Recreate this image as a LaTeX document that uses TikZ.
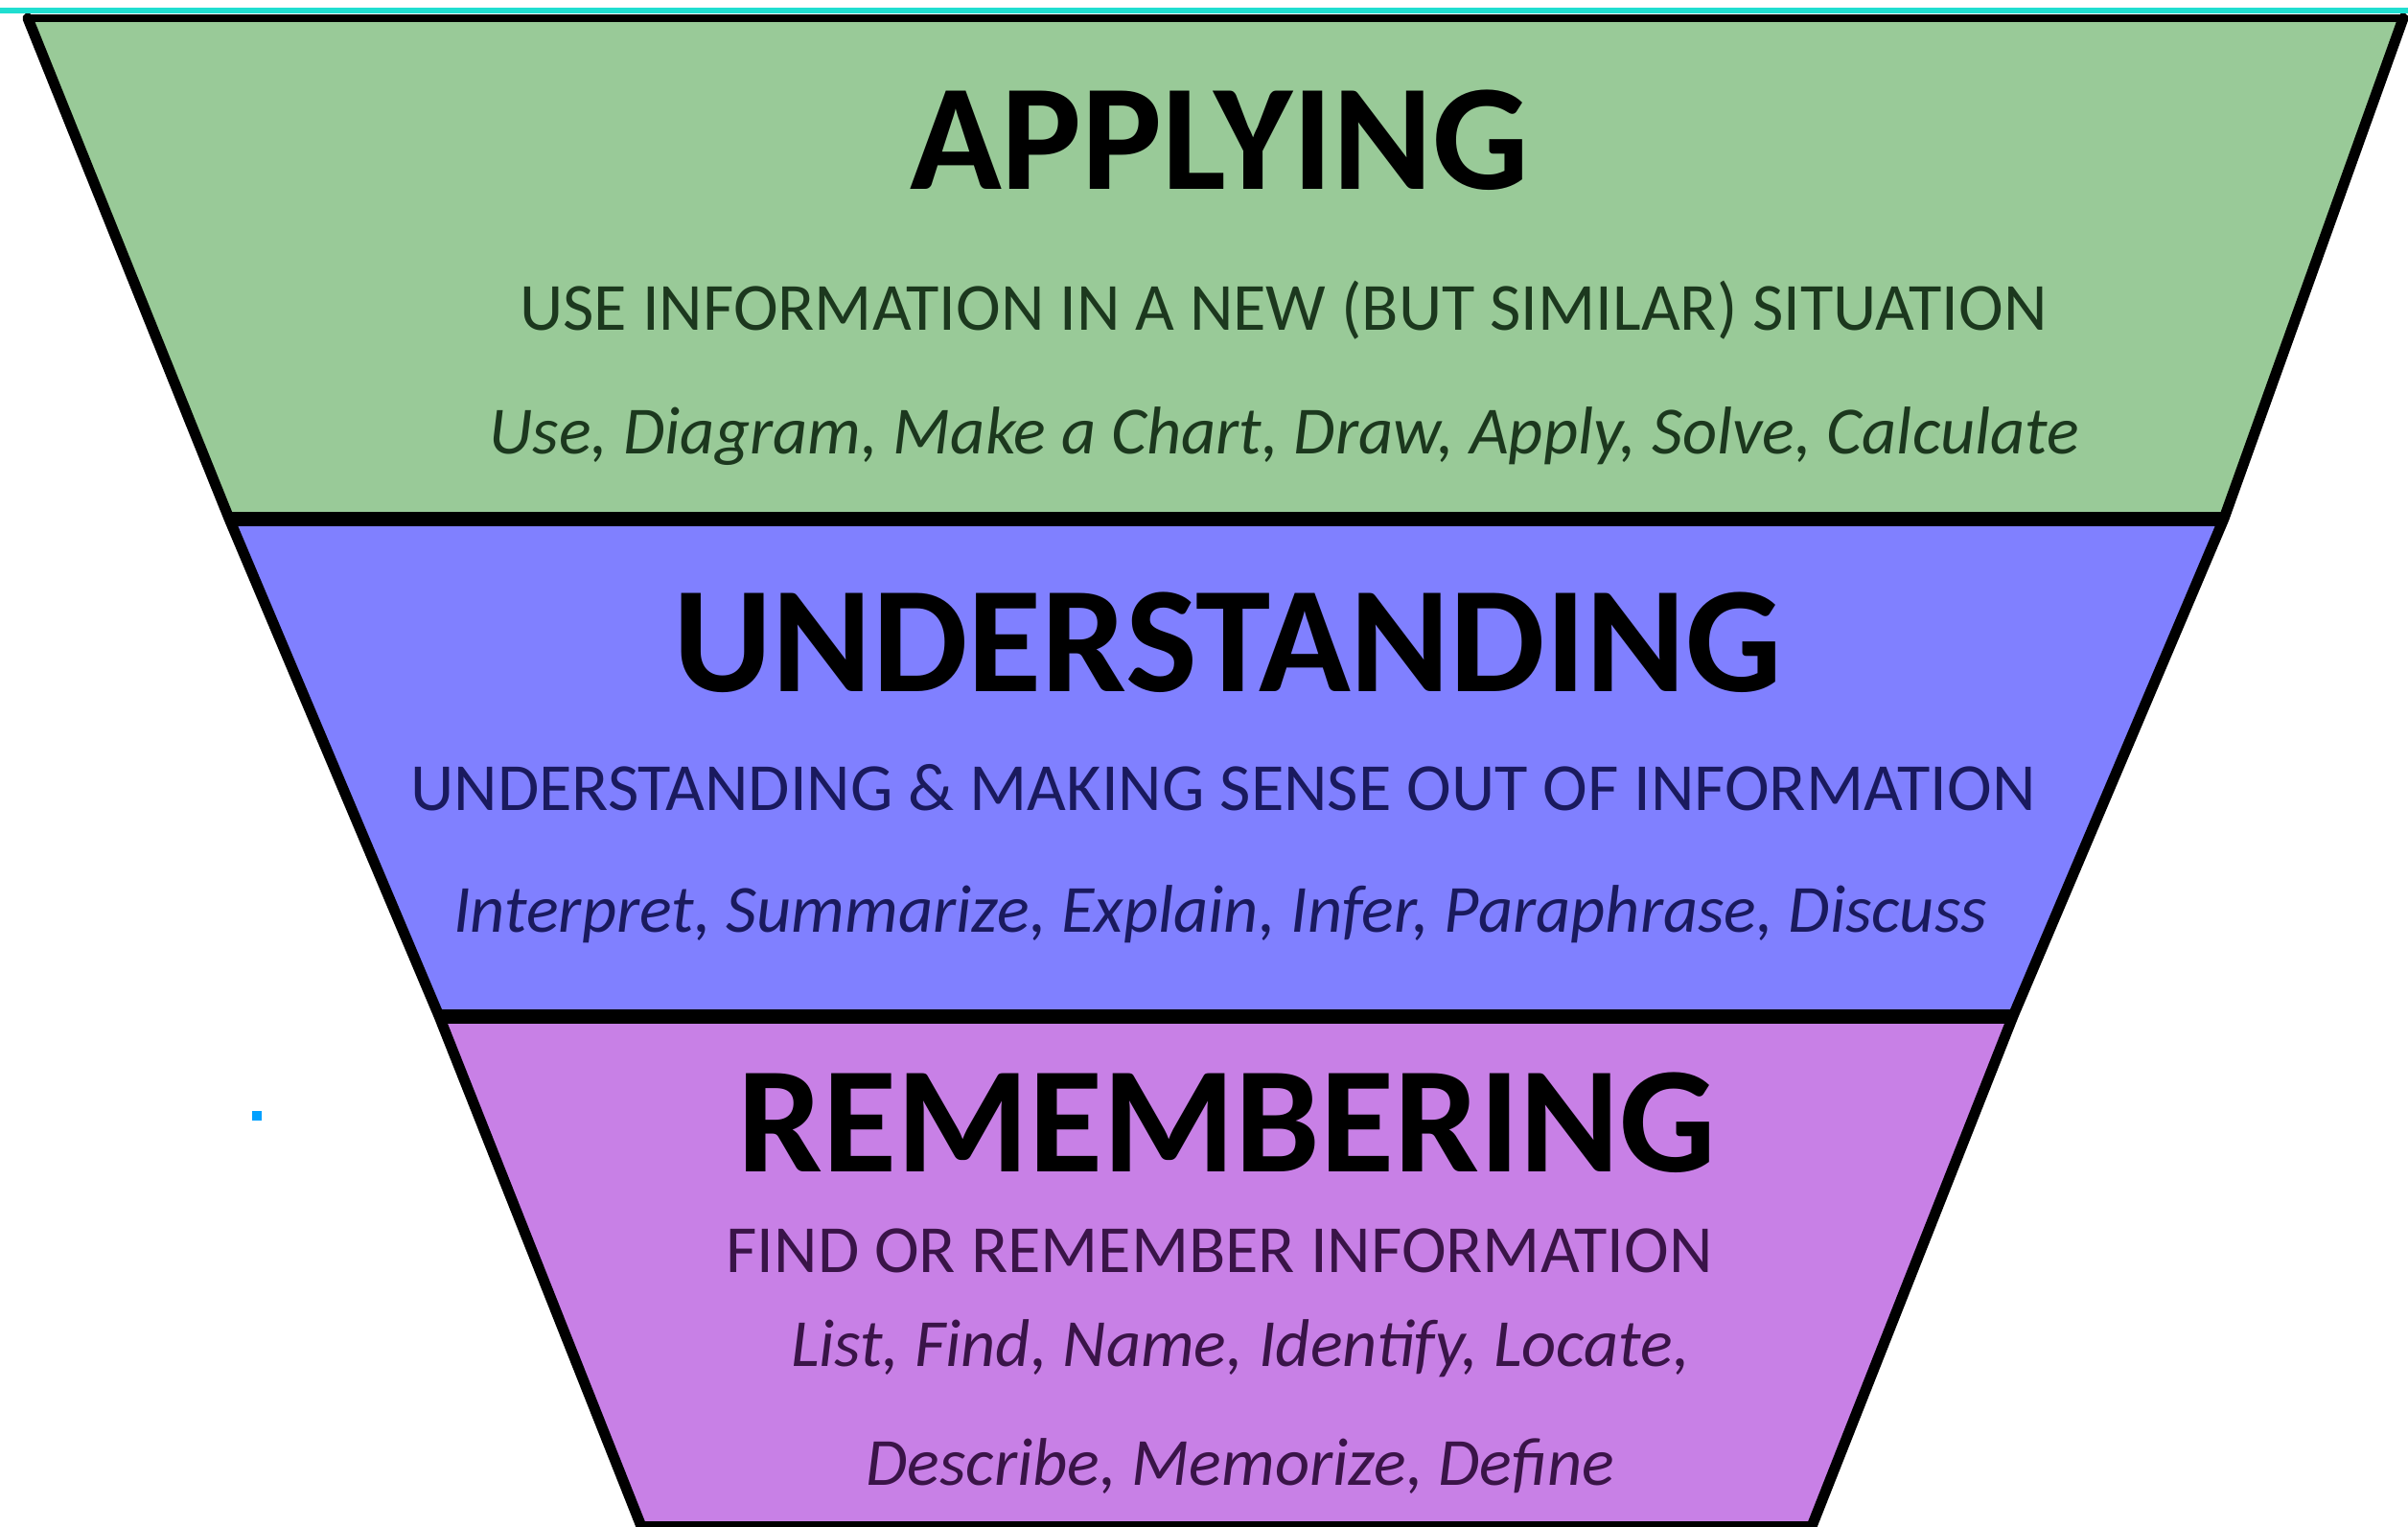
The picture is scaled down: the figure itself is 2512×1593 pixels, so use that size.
\documentclass[tikz,border=0pt]{standalone}
\usepackage{fontspec}
\setmainfont{Carlito}
\definecolor{layergreen}{RGB}{153,202,152}
\definecolor{layerblue}{RGB}{128,128,255}
\definecolor{layerpurple}{RGB}{200,128,230}
\definecolor{txtgreen}{RGB}{28,56,30}
\definecolor{txtblue}{RGB}{26,26,94}
\definecolor{txtpurple}{RGB}{58,20,72}
\definecolor{topcyan}{RGB}{32,222,208}
\definecolor{dotblue}{RGB}{0,160,255}
\tikzset{
  titletext/.style={anchor=base, inner sep=0pt, font=\fontsize{158}{166}\selectfont\bfseries, text=black},
  subtext/.style={anchor=base, inner sep=0pt, font=\fontsize{70.4}{76}\selectfont},
  verbtext/.style={anchor=base, inner sep=0pt, font=\fontsize{70.4}{76}\selectfont\itshape},
  sideline/.style={draw=black, line width=11pt, line cap=round},
  sepline/.style={draw=black, line width=15pt},
}
\begin{document}
\begin{tikzpicture}[x=1pt,y=-1pt]
\useasboundingbox (0,0) rectangle (2512,1593);
% vertices
\coordinate (TL) at (29,19);
\coordinate (TR) at (2507,19);
\coordinate (AL) at (239,541);
\coordinate (AR) at (2320,541);
\coordinate (BL) at (458,1060);
\coordinate (BR) at (2100,1060);
\coordinate (CL) at (672,1600);
\coordinate (CR) at (1887,1600);
\coordinate (DL) at (669,1591);
\coordinate (DR) at (1891,1591);
% fills
\fill[layergreen] (TL) -- (TR) -- (AR) -- (AL) -- cycle;
\fill[layerblue] (AL) -- (AR) -- (BR) -- (BL) -- cycle;
\fill[layerpurple] (BL) -- (BR) -- (CR) -- (CL) -- cycle;
% outlines
\draw[sideline] (TL) -- (AL) -- (BL) -- (CL);
\draw[sideline] (TR) -- (AR) -- (BR) -- (CR);
\draw[draw=black, line width=8pt] (TL) -- (TR);
\draw[sepline] (AL) -- (AR);
\draw[sepline] (BL) -- (BR);
\draw[draw=black, line width=8pt] (DL) -- (DR);
% top cyan line
\fill[topcyan] (0,8) rectangle (2512,14);
% stray dot
\fill[dotblue] (263,1159) rectangle (273,1169);
% texts
\node[titletext] (apply) at (1272,197) {APPLYING};
\node[subtext, text=txtgreen] (applysub) at (1339,344) {USE INFORMATION IN A NEW (BUT SIMILAR) SITUATION};
\node[verbtext, text=txtgreen] (applyverbs) at (1340,473) {Use, Diagram, Make a Chart, Draw, Apply, Solve, Calculate};
\node[titletext] (under) at (1281,721) {UNDERSTANDING};
\node[subtext, text=txtblue] (undersub) at (1276,845) {UNDERSTANDING \& MAKING SENSE OUT OF INFORMATION};
\node[verbtext, text=txtblue] (underverbs) at (1273,972) {Interpret, Summarize, Explain, Infer, Paraphrase, Discuss};
\node[titletext] (remem) at (1280,1222) {REMEMBERING};
\node[subtext, text=txtpurple] (rememsub) at (1272,1327) {FIND OR REMEMBER INFORMATION};
\node[verbtext, text=txtpurple] (rememverbs1) at (1294,1425) {List, Find, Name, Identify, Locate,};
\node[verbtext, text=txtpurple] (rememverbs2) at (1294,1549) {Describe, Memorize, Define};
\end{tikzpicture}
\end{document}
